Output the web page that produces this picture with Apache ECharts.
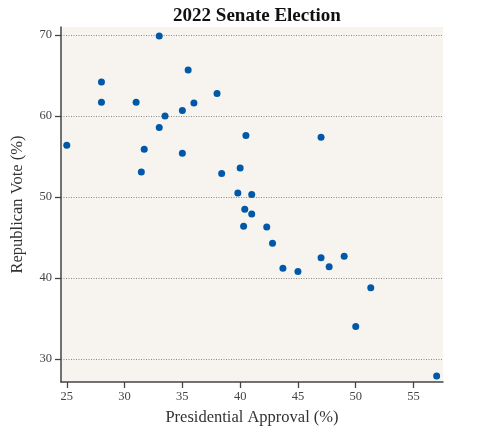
<!DOCTYPE html>
<html>
<head>
<meta charset="utf-8">
<script src="https://cdn.jsdelivr.net/npm/echarts@6/dist/echarts.min.js"></script>
<style>html,body{margin:0;padding:0;background:#fff;}#c{width:491px;height:431px;}</style>
</head>
<body>
<div id="c"></div>
<script>
const approval = [25, 28, 28, 31, 33, 33.5, 33, 31.7, 31.45, 35, 35.5, 36, 35, 38, 38.4, 40.5, 40, 39.8, 47, 41, 40.4, 41, 40.3, 42.3, 42.8, 43.7, 45, 47, 47.7, 49, 51.3, 50, 57];
const repVote = [56.4, 64.2, 61.7, 61.7, 69.9, 60.0, 58.6, 55.9, 53.1, 60.7, 65.7, 61.6, 55.4, 62.8, 52.9, 57.6, 53.6, 50.5, 57.4, 50.3, 48.5, 47.9, 46.4, 46.3, 44.3, 41.2, 40.8, 42.5, 41.4, 42.7, 38.8, 34.0, 27.9];
const xTicks = [25, 30, 35, 40, 45, 50, 55];
const yTicks = [30, 40, 50, 60, 70];

const font = '"Liberation Serif", "DejaVu Serif", serif';
const chart = echarts.init(document.getElementById('c'), null, {renderer: 'canvas'});
chart.setOption({
  animation: false,
  title: {
    text: '2022 Senate Election', left: 252, top: 2, textAlign: 'center',
    textStyle: {fontFamily: font, fontWeight: 'bold', fontSize: 19, color: '#111'}
  },
  grid: {left: 61, right: 48, top: 27, bottom: 49, show: true, backgroundColor: '#f7f4ef', borderWidth: 0},
  xAxis: {
    type: 'value', min: 24.5, max: 57.55,
    name: 'Presidential Approval (%)', nameLocation: 'middle', nameGap: 27,
    nameTextStyle: {fontFamily: font, fontSize: 16.5, color: '#333'},
    axisLine: {show: true, lineStyle: {color: '#444', width: 1.5}},
    axisTick: {show: true, inside: false, length: 6, customValues: xTicks, lineStyle: {color: '#444', width: 1.3}},
    axisLabel: {customValues: xTicks, fontFamily: font, fontSize: 12.5, color: '#444', margin: 8},
    splitLine: {show: false}
  },
  yAxis: {
    type: 'value', min: 27.16, max: 71,
    name: 'Republican Vote (%)', nameLocation: 'middle', nameGap: 35, nameRotate: 90,
    nameTextStyle: {fontFamily: font, fontSize: 16.5, color: '#333'},
    axisLine: {show: true, lineStyle: {color: '#444', width: 1.5}},
    axisTick: {show: true, inside: false, length: 6, customValues: yTicks, lineStyle: {color: '#444', width: 1.3}},
    axisLabel: {customValues: yTicks, fontFamily: font, fontSize: 12.5, color: '#444', margin: 9},
    splitLine: {show: true, lineStyle: {color: '#8a8a8a', type: [1, 1.5], width: 1}}
  },
  series: [{
    type: 'scatter',
    data: approval.map((x, i) => [x, repVote[i]]),
    symbolSize: 7,
    itemStyle: {color: '#0058a8', opacity: 1}
  }]
});
</script>
</body>
</html>
